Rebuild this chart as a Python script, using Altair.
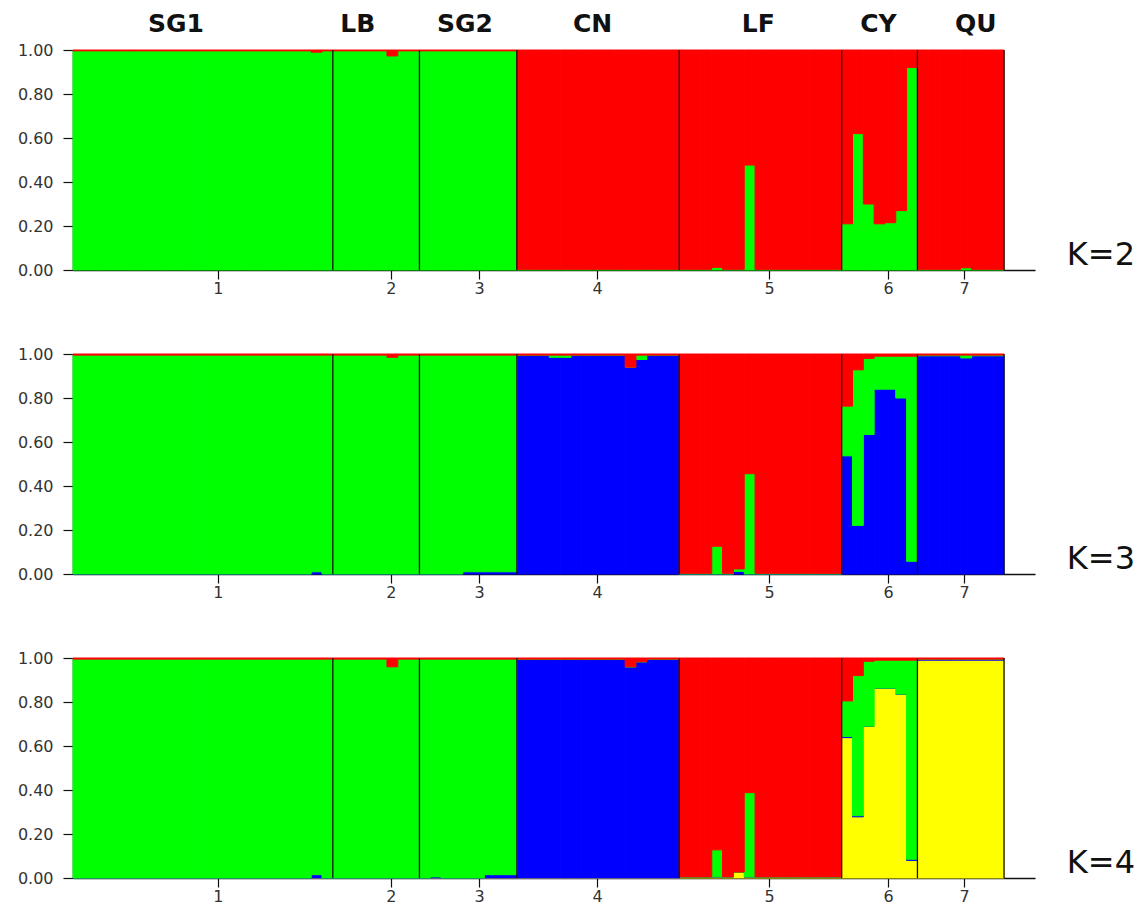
import altair as alt
import pandas as pd

# ---------------- data ----------------
POPS = ["SG1", "LB", "SG2", "CN", "LF", "CY", "QU"]
POP_SIZES = [24, 8, 9, 15, 15, 7, 8]
POP_LABEL_X = [9.5, 26.3, 36.2, 48.0, 63.3, 74.4, 83.4]      # individual-index units
TICK_POS = [13.39, 29.37, 37.5, 48.4, 64.29, 75.28, 82.3]
TICK_LABELS = ["1", "2", "3", "4", "5", "6", "7"]
K_LABELS = ["K=2", "K=3", "K=4"]
CLUSTERS = ["yellow", "blue", "green", "red"]          # stacking order bottom -> top
COLORS = ["#FFFF00", "#0000FF", "#00FF00", "#FF0000"]

# ---- K = 2 ----
K2_GREEN = [
    # SG1
    0.996, 0.996, 0.996, 0.996, 0.996, 0.996, 0.996, 0.996, 0.996, 0.996, 0.996, 0.996,
    0.996, 0.996, 0.996, 0.996, 0.996, 0.996, 0.996, 0.996, 0.996, 0.996, 0.990, 0.996,
    # LB
    0.996, 0.996, 0.996, 0.996, 0.996, 0.973, 0.996, 0.996,
    # SG2
    0.996, 0.996, 0.996, 0.996, 0.996, 0.996, 0.996, 0.996, 0.996,
    # CN
    0.003, 0.003, 0.003, 0.003, 0.003, 0.003, 0.003, 0.003, 0.003, 0.003, 0.003, 0.003, 0.003, 0.003, 0.003,
    # LF
    0.003, 0.003, 0.003, 0.012, 0.003, 0.003, 0.477, 0.003, 0.003, 0.003, 0.003, 0.003, 0.003, 0.003, 0.003,
    # CY
    0.21, 0.62, 0.30, 0.21, 0.215, 0.27, 0.92,
    # QU
    0.003, 0.003, 0.003, 0.003, 0.010, 0.003, 0.003, 0.003,
]
K2_RED = [
    0.004, 0.004, 0.004, 0.004, 0.004, 0.004, 0.004, 0.004, 0.004, 0.004, 0.004, 0.004,
    0.004, 0.004, 0.004, 0.004, 0.004, 0.004, 0.004, 0.004, 0.004, 0.004, 0.010, 0.004,
    0.004, 0.004, 0.004, 0.004, 0.004, 0.027, 0.004, 0.004,
    0.004, 0.004, 0.004, 0.004, 0.004, 0.004, 0.004, 0.004, 0.004,
    0.997, 0.997, 0.997, 0.997, 0.997, 0.997, 0.997, 0.997, 0.997, 0.997, 0.997, 0.997, 0.997, 0.997, 0.997,
    0.997, 0.997, 0.997, 0.988, 0.997, 0.997, 0.523, 0.997, 0.997, 0.997, 0.997, 0.997, 0.997, 0.997, 0.997,
    0.79, 0.38, 0.70, 0.79, 0.785, 0.73, 0.08,
    0.997, 0.997, 0.997, 0.997, 0.990, 0.997, 0.997, 0.997,
]

# ---- K = 3 ----
K3_BLUE = [
    0, 0, 0, 0, 0, 0, 0, 0, 0, 0, 0, 0, 0, 0, 0, 0, 0, 0, 0, 0, 0, 0, 0.010, 0,
    0, 0, 0, 0, 0, 0, 0, 0,
    0, 0, 0, 0, 0.010, 0.010, 0.010, 0.010, 0.010,
    0.995, 0.995, 0.995, 0.985, 0.985, 0.995, 0.995, 0.995, 0.995, 0.995, 0.940, 0.975, 0.995, 0.995, 0.995,
    0, 0, 0, 0, 0, 0.012, 0, 0, 0, 0, 0, 0, 0, 0, 0,
    0.537, 0.221, 0.634, 0.840, 0.840, 0.800, 0.058,
    0.992, 0.992, 0.992, 0.992, 0.982, 0.992, 0.992, 0.992,
]
K3_GREEN = [
    0.995, 0.995, 0.995, 0.995, 0.995, 0.995, 0.995, 0.995, 0.995, 0.995, 0.995, 0.995,
    0.995, 0.995, 0.995, 0.995, 0.995, 0.995, 0.995, 0.995, 0.995, 0.995, 0.985, 0.995,
    0.995, 0.995, 0.995, 0.995, 0.995, 0.985, 0.995, 0.995,
    0.995, 0.995, 0.995, 0.995, 0.985, 0.985, 0.985, 0.985, 0.985,
    0, 0, 0, 0.010, 0.010, 0, 0, 0, 0, 0, 0, 0.020, 0, 0, 0,
    0.003, 0.003, 0.003, 0.126, 0.003, 0.011, 0.456, 0.003, 0.003, 0.003, 0.003, 0.003, 0.003, 0.003, 0.003,
    0.226, 0.707, 0.346, 0.150, 0.150, 0.190, 0.932,
    0.003, 0.003, 0.003, 0.003, 0.013, 0.003, 0.003, 0.003,
]
K3_RED = [
    0.005, 0.005, 0.005, 0.005, 0.005, 0.005, 0.005, 0.005, 0.005, 0.005, 0.005, 0.005,
    0.005, 0.005, 0.005, 0.005, 0.005, 0.005, 0.005, 0.005, 0.005, 0.005, 0.005, 0.005,
    0.005, 0.005, 0.005, 0.005, 0.005, 0.015, 0.005, 0.005,
    0.005, 0.005, 0.005, 0.005, 0.005, 0.005, 0.005, 0.005, 0.005,
    0.005, 0.005, 0.005, 0.005, 0.005, 0.005, 0.005, 0.005, 0.005, 0.005, 0.060, 0.005, 0.005, 0.005, 0.005,
    0.997, 0.997, 0.997, 0.874, 0.997, 0.977, 0.544, 0.997, 0.997, 0.997, 0.997, 0.997, 0.997, 0.997, 0.997,
    0.237, 0.072, 0.020, 0.010, 0.010, 0.010, 0.010,
    0.005, 0.005, 0.005, 0.005, 0.005, 0.005, 0.005, 0.005,
]

# ---- K = 4 ----
K4_YELLOW = [
    0, 0, 0, 0, 0, 0, 0, 0, 0, 0, 0, 0, 0, 0, 0, 0, 0, 0, 0, 0, 0, 0, 0, 0,
    0, 0, 0, 0, 0, 0, 0, 0,
    0, 0, 0, 0, 0, 0, 0, 0, 0,
    0, 0, 0, 0, 0, 0, 0, 0, 0, 0, 0, 0, 0, 0, 0,
    0.005, 0.005, 0.005, 0.005, 0.005, 0.027, 0.005, 0.005, 0.005, 0.005, 0.005, 0.005, 0.005, 0.005, 0.005,
    0.638, 0.278, 0.690, 0.863, 0.863, 0.836, 0.080,
    0.990, 0.990, 0.990, 0.990, 0.990, 0.990, 0.990, 0.990,
]
K4_BLUE = [
    0, 0, 0, 0, 0, 0, 0, 0, 0, 0, 0, 0, 0, 0, 0, 0, 0, 0, 0, 0, 0, 0, 0.015, 0,
    0, 0, 0, 0, 0, 0, 0, 0,
    0, 0.005, 0, 0, 0, 0, 0.015, 0.015, 0.015,
    0.995, 0.995, 0.995, 0.995, 0.995, 0.995, 0.995, 0.995, 0.995, 0.995, 0.960, 0.983, 0.995, 0.995, 0.995,
    0, 0, 0, 0, 0, 0, 0, 0, 0, 0, 0, 0, 0, 0, 0,
    0.005, 0.005, 0, 0, 0, 0, 0.005,
    0.005, 0.005, 0.005, 0.005, 0.005, 0.005, 0.005, 0.005,
]
K4_GREEN = [
    0.995, 0.995, 0.995, 0.995, 0.995, 0.995, 0.995, 0.995, 0.995, 0.995, 0.995, 0.995,
    0.995, 0.995, 0.995, 0.995, 0.995, 0.995, 0.995, 0.995, 0.995, 0.995, 0.980, 0.995,
    0.995, 0.995, 0.995, 0.995, 0.995, 0.960, 0.995, 0.995,
    0.995, 0.990, 0.995, 0.995, 0.995, 0.995, 0.980, 0.980, 0.980,
    0, 0, 0, 0, 0, 0, 0, 0, 0, 0, 0, 0, 0, 0, 0,
    0, 0, 0, 0.123, 0, 0, 0.383, 0, 0, 0, 0, 0, 0, 0, 0,
    0.162, 0.637, 0.295, 0.127, 0.127, 0.154, 0.905,
    0, 0, 0, 0, 0, 0, 0, 0,
]
K4_RED = [
    0.005, 0.005, 0.005, 0.005, 0.005, 0.005, 0.005, 0.005, 0.005, 0.005, 0.005, 0.005,
    0.005, 0.005, 0.005, 0.005, 0.005, 0.005, 0.005, 0.005, 0.005, 0.005, 0.005, 0.005,
    0.005, 0.005, 0.005, 0.005, 0.005, 0.040, 0.005, 0.005,
    0.005, 0.005, 0.005, 0.005, 0.005, 0.005, 0.005, 0.005, 0.005,
    0.005, 0.005, 0.005, 0.005, 0.005, 0.005, 0.005, 0.005, 0.005, 0.005, 0.040, 0.017, 0.005, 0.005, 0.005,
    0.995, 0.995, 0.995, 0.872, 0.995, 0.973, 0.612, 0.995, 0.995, 0.995, 0.995, 0.995, 0.995, 0.995, 0.995,
    0.195, 0.080, 0.015, 0.010, 0.010, 0.010, 0.010,
    0.005, 0.005, 0.005, 0.005, 0.005, 0.005, 0.005, 0.005,
]

RUNS = [
    (2, {"green": K2_GREEN, "red": K2_RED}),
    (3, {"blue": K3_BLUE, "green": K3_GREEN, "red": K3_RED}),
    (4, {"yellow": K4_YELLOW, "blue": K4_BLUE, "green": K4_GREEN, "red": K4_RED}),
]

# ---------------- build tables ----------------
rows = []
for k, comps in RUNS:
    for cl, vals in comps.items():
        for i, v in enumerate(vals):
            rows.append({"K": k, "ind": i, "x1": i + 1, "cluster": cl,
                         "order": CLUSTERS.index(cl), "value": v})
df = pd.DataFrame(rows)

bounds = []
acc = 0
for s in POP_SIZES:
    acc += s
    bounds.append(acc)
bounds_df = pd.DataFrame({"b": bounds})

# ---------------- layout ----------------
W, H = 962, 220
X_MAX = 88.86
K_LABEL_X = 91.8
K_LABEL_Y = 0.068
TOP_LABEL_Y = 1.118

xscale = alt.Scale(domain=[0, X_MAX], nice=False, zero=False)
yscale = alt.Scale(domain=[0, 1], nice=False, zero=False)

label_expr = " : ".join(f"datum.value == {p} ? '{l}'" for p, l in zip(TICK_POS, TICK_LABELS)) + " : ''"
XAXIS = alt.Axis(values=TICK_POS, labelExpr=label_expr, title=None, grid=False,
                 tickSize=9, labelPadding=1, labelFlush=False, labelOverlap=False)
YAXIS = alt.Axis(values=[0, 0.2, 0.4, 0.6, 0.8, 1.0], format=".2f", title=None, grid=False,
                 tickSize=10, labelPadding=10)


def panel(idx, k):
    sub = df[df.K == k]
    bars = alt.Chart(sub).transform_stack(
        stack="value", groupby=["ind"], as_=["y0", "y1"],
        sort=[alt.SortField("order", order="ascending")],
    ).mark_rect(strokeWidth=1).encode(
        x=alt.X("ind:Q", scale=xscale, axis=XAXIS),
        x2="x1:Q",
        y=alt.Y("y0:Q", scale=yscale, axis=YAXIS),
        y2="y1:Q",
        color=alt.Color("cluster:N", scale=alt.Scale(domain=CLUSTERS, range=COLORS), legend=None),
        stroke=alt.Stroke("cluster:N", scale=alt.Scale(domain=CLUSTERS, range=COLORS), legend=None),
    )
    rules = alt.Chart(bounds_df).mark_rule(color="#111111", strokeWidth=1.3).encode(
        x=alt.X("b:Q", scale=xscale, axis=XAXIS),
        y=alt.value(0),
        y2=alt.value(H),
    )
    klab = alt.Chart(pd.DataFrame({"t": [K_LABELS[idx]], "x": [K_LABEL_X], "y": [K_LABEL_Y]})).mark_text(
        font="DejaVu Sans", fontSize=32, align="left", baseline="middle", color="#111111"
    ).encode(
        x=alt.X("x:Q", scale=xscale, axis=XAXIS),
        y=alt.Y("y:Q", scale=yscale, axis=YAXIS),
        text="t:N",
    )
    layers = [bars, rules, klab]
    if idx == 0:
        top = alt.Chart(pd.DataFrame({"t": POPS, "x": POP_LABEL_X, "y": [TOP_LABEL_Y] * len(POPS)})).mark_text(
            font="DejaVu Sans", fontSize=25, fontWeight="bold", align="center", baseline="middle", color="#111111"
        ).encode(
            x=alt.X("x:Q", scale=xscale, axis=XAXIS),
            y=alt.Y("y:Q", scale=yscale, axis=YAXIS),
            text="t:N",
        )
        layers.append(top)
    return alt.layer(*layers).properties(width=W, height=H)


panels = [panel(i, k) for i, (k, _) in enumerate(RUNS)]

chart = alt.vconcat(*panels, spacing=84, bounds="flush").configure_view(
    strokeWidth=0
).configure_axis(
    domainColor="#111111", domainWidth=1.5, tickColor="#111111", tickWidth=1.2,
    labelColor="#333333", labelFont="DejaVu Sans", labelFontSize=16,
).properties(
    padding={"left": 17, "top": 12, "right": 0, "bottom": 0}
)

chart.save("out.html", embed_options={"renderer": "svg", "actions": False})
